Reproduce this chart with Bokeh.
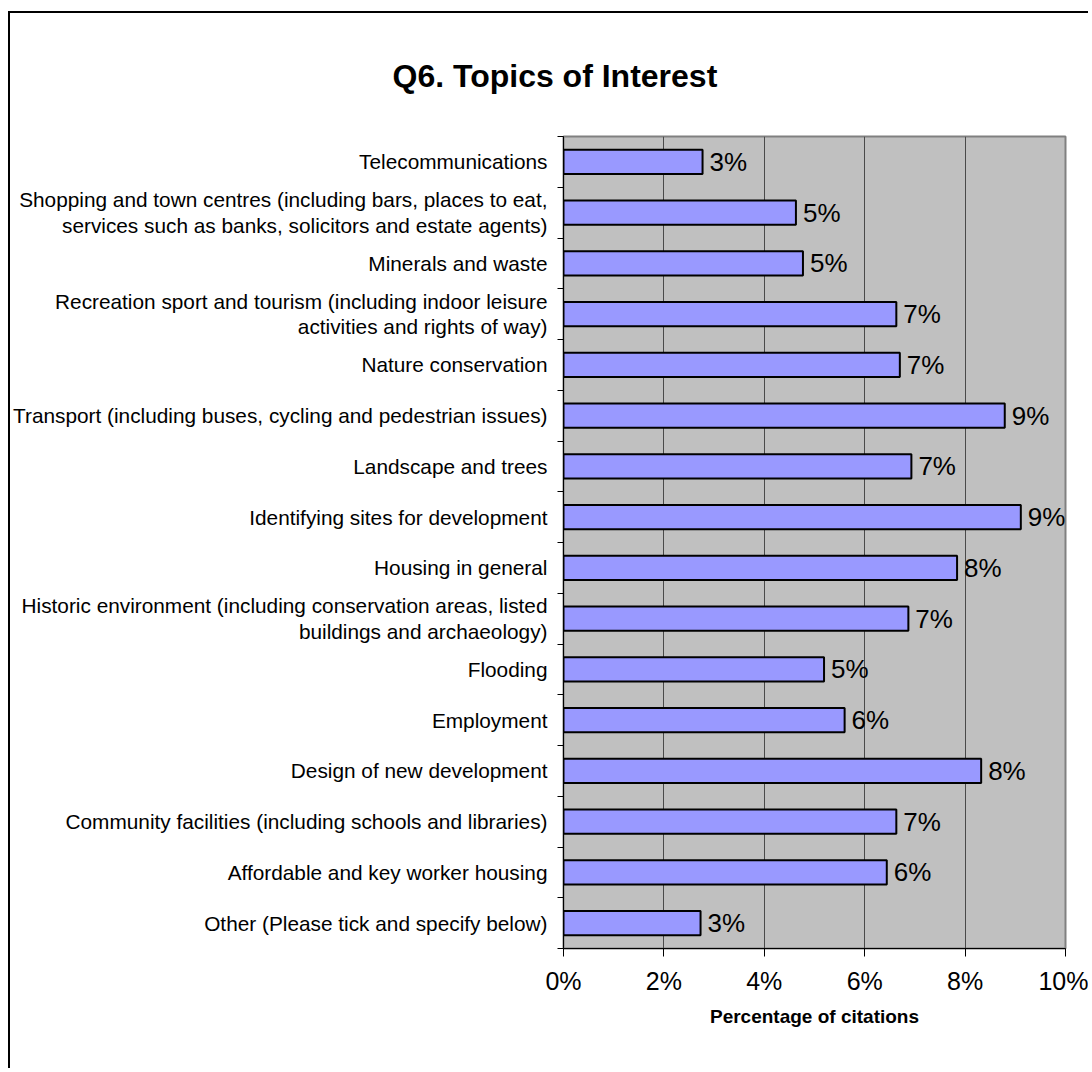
from bokeh.plotting import figure
from bokeh.models import (Range1d, LinearAxis, FixedTicker,
                          PrintfTickFormatter, ColumnDataSource, LabelSet)
from bokeh.core.properties import value
from bokeh.embed import file_html
from bokeh.resources import INLINE

# ---- data (top-to-bottom order as in the chart) ----
categories = [
    "Telecommunications",
    "Shopping and town centres (including bars, places to eat,\nservices such as banks, solicitors and estate agents)",
    "Minerals and waste",
    "Recreation sport and tourism (including indoor leisure\nactivities and rights of way)",
    "Nature conservation",
    "Transport (including buses, cycling and pedestrian issues)",
    "Landscape and trees",
    "Identifying sites for development",
    "Housing in general",
    "Historic environment (including conservation areas, listed\nbuildings and archaeology)",
    "Flooding",
    "Employment",
    "Design of new development",
    "Community facilities (including schools and libraries)",
    "Affordable and key worker housing",
    "Other (Please tick and specify below)",
]
values = [2.77, 4.63, 4.77, 6.63, 6.70, 8.79, 6.93, 9.11, 7.84, 6.87, 5.19, 5.60, 8.32, 6.63, 6.44, 2.73]
value_labels = ["3%", "5%", "5%", "7%", "7%", "9%", "7%", "9%", "8%", "7%", "5%", "6%", "8%", "7%", "6%", "3%"]
x_ticks = [0, 2, 4, 6, 8, 10]
grid_ticks = [2, 4, 6, 8]

title_text = "Q6. Topics of Interest"
x_title = "Percentage of citations"

FONT = "Liberation Sans"

n = len(categories)
# slot centres: first category at the top
pos = [n - i - 0.5 for i in range(n)]
boundary_ticks = list(range(n + 1))

src = ColumnDataSource(dict(pos=pos, cat=categories, val=values, lab=value_labels))

p = figure(width=1080, height=1057,
           y_range=Range1d(0, n),
           x_range=Range1d(0, 10),
           output_backend="svg", toolbar_location=None,
           y_axis_location=None,
           min_border_left=552, min_border_right=25,
           min_border_top=120, min_border_bottom=122)
p.styles = {"border-left": "2px solid #000000", "border-top": "2px solid #000000",
            "margin-top": "11px", "margin-left": "8px"}

p.background_fill_color = "#C0C0C0"
p.border_fill_color = "white"
p.outline_line_color = "#808080"
p.outline_line_width = 2

# title
p.title.text = title_text
p.title.align = "left"
p.title.offset = -171
p.title.standoff = 85
p.title.text_line_height = 1.0
p.title.text_font = FONT
p.title.text_font_size = "32px"
p.title.text_font_style = "bold"
p.title.text_color = "black"

# bars
p.hbar(y="pos", right="val", left=0, height=0.48, source=src,
       fill_color="#9999FF", line_color="black", line_width=2)

labels = LabelSet(x="val", y="pos", text="lab", source=src, x_offset=7,
                  text_baseline="middle", text_align="left",
                  text_font=value(FONT), text_font_size=value("26px"), text_color="black")
p.add_layout(labels)

# grid
p.ygrid.visible = False
p.xgrid.ticker = FixedTicker(ticks=grid_ticks)
p.xgrid.grid_line_color = "#4a4a4a"
p.xgrid.grid_line_width = 1

# x axis
xa = p.xaxis[0]
xa.ticker = FixedTicker(ticks=x_ticks)
xa.formatter = PrintfTickFormatter(format="%d%%")
xa.major_tick_out = 8
xa.major_tick_in = 0
xa.minor_tick_line_color = None
xa.axis_line_color = "black"
xa.major_tick_line_color = "black"
xa.major_label_text_font = FONT
xa.major_label_text_font_size = "25px"
xa.major_label_text_color = "black"
xa.major_label_standoff = 10
xa.axis_label = x_title
xa.axis_label_text_font = FONT
xa.axis_label_text_font_size = "19px"
xa.axis_label_text_font_style = "bold"
xa.axis_label_text_color = "black"
xa.axis_label_standoff = 8

# y axis: category names at slot centres, tick marks on slot boundaries
cat_axis = LinearAxis(ticker=FixedTicker(ticks=pos, minor_ticks=boundary_ticks),
                      major_label_overrides={pv: c for pv, c in zip(pos, categories)})
cat_axis.major_tick_line_color = None
cat_axis.major_tick_out = 0
cat_axis.major_tick_in = 0
cat_axis.minor_tick_line_color = "black"
cat_axis.minor_tick_out = 6
cat_axis.minor_tick_in = 0
cat_axis.axis_line_color = "black"
cat_axis.major_label_standoff = 10
cat_axis.major_label_text_font = FONT
cat_axis.major_label_text_font_size = "20.8px"
cat_axis.major_label_text_line_height = 1.1
cat_axis.major_label_text_color = "black"
p.add_layout(cat_axis, "left")

open("out.html", "w").write(file_html(p, INLINE))
